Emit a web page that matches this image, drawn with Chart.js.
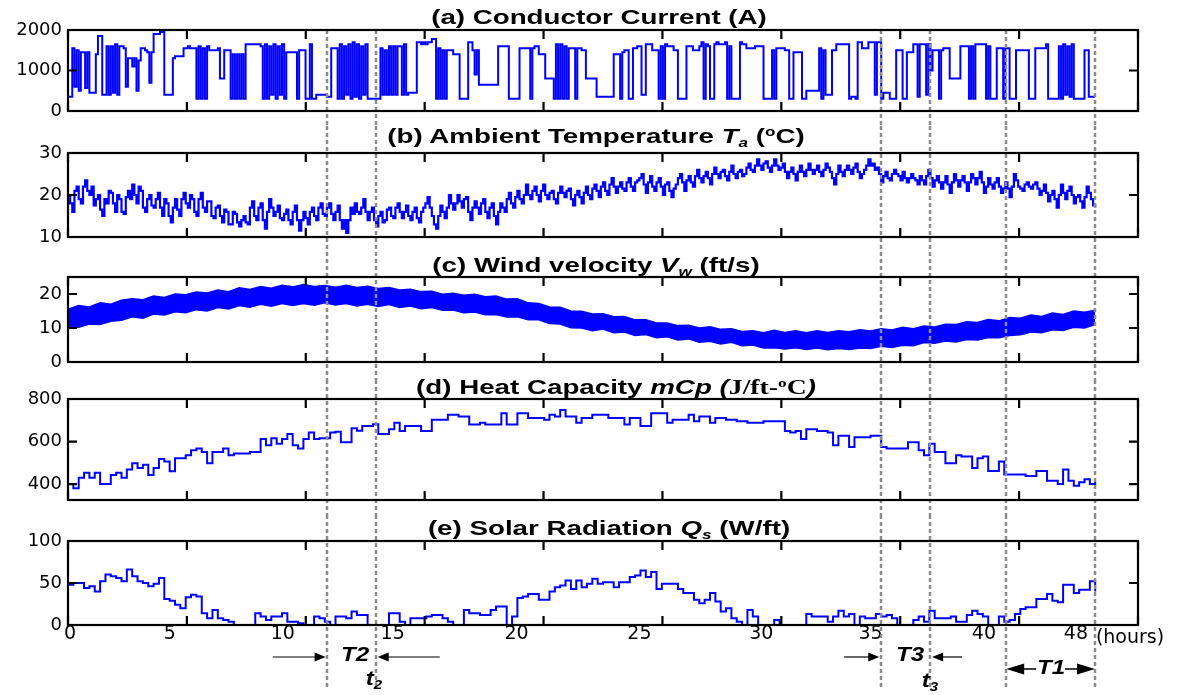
<!DOCTYPE html>
<html>
<head>
<meta charset="utf-8">
<script src="https://cdn.jsdelivr.net/npm/chart.js@4.4.1/dist/chart.umd.min.js"></script>
<style>
    body { margin: 0; background: #fff; width: 1177px; height: 695px; position: relative; overflow: hidden; font-family: "Liberation Sans", Arial, sans-serif; }
    canvas { position: absolute; left: 0; }
    .title { position: absolute; left: 603px; font-weight: bold; font-size: 21px; line-height: 24px; white-space: nowrap; transform: translateX(-50%) scaleX(1.32); }
    .title sub, .ann sub { font-size: 0.62em; vertical-align: -0.3em; line-height: 0; }
    .title sup { font-size: 0.62em; vertical-align: 0.55em; line-height: 0; }
    .serif { font-family: "Liberation Serif", "Times New Roman", serif; }
    .ann { position: absolute; font-weight: bold; font-style: italic; font-size: 21px; line-height: 24px; white-space: nowrap; transform: translate(-50%, -50%) scaleX(1.15); }
    .unit { position: absolute; font-family: "DejaVu Sans", sans-serif; font-size: 19px; line-height: 22px; transform: translate(-50%, -50%); }
</style>
</head>
<body>
<canvas id="chart-a" width="1177" height="126" style="top:0px"></canvas>
<canvas id="chart-b" width="1177" height="126" style="top:126px"></canvas>
<canvas id="chart-c" width="1177" height="128" style="top:252px"></canvas>
<canvas id="chart-d" width="1177" height="135" style="top:380px"></canvas>
<canvas id="chart-e" width="1177" height="180" style="top:515px"></canvas>

<div class="title" style="top:5px; left:599px">(a) Conductor Current (A)</div>
<div class="title" style="top:124px; left:596px">(b) Ambient Temperature <i>T<sub>a</sub></i> (<sup>o</sup>C)</div>
<div class="title" style="top:253px; left:596px">(c) Wind velocity <i>V<sub>w</sub></i> (ft/s)</div>
<div class="title" style="top:375px; left:616px">(d) Heat Capacity <i>mCp (</i><span class="serif">J/ft-<sup>o</sup>C</span><i>)</i></div>
<div class="title" style="top:516px; left:609px">(e) Solar Radiation <i>Q<sub>s</sub></i> (W/ft)</div>

<div class="ann" style="left:355px; top:654px">T2</div>
<div class="ann" style="left:374px; top:678px">t<sub>2</sub></div>
<div class="ann" style="left:910px; top:654px">T3</div>
<div class="ann" style="left:930px; top:680px">t<sub>3</sub></div>
<div class="ann" style="left:1051px; top:667px">T1</div>
<div class="unit" style="left:1130px; top:636px">(hours)</div>

<script>
// x axis (hours)
const xTickMarks = [0, 5.556, 11.111, 16.667, 22.222, 27.778, 33.333, 38.889, 44.444, 50];
const xLabelPos = [0.1, 4.76, 10.04, 15.17, 20.96, 26.7, 32.4, 37.5, 42.8, 47.1];
const xLabels = ['0', '5', '10', '15', '20', '25', '30', '35', '40', '48'];
const markerHours = [12.08, 14.41, 37.99, 40.3, 43.82, 47.99];

// arrows under the axis: [from, to] in hours, head at "to"
const arrowsSingle = [[9.57, 12.04], [17.37, 14.47], [36.27, 37.91], [41.78, 40.38]];
const arrowT1 = [43.84, 47.99];

// (a) conductor current, one value every 0.1 h (one row per hour)
const currentStep = 0.1;
const current = [
    350, 350, 1550, 600, 1500, 500, 1450, 1450, 570, 1450,
    450, 450, 450, 1400, 1850, 1850, 400, 400, 1600, 400,
    1600, 450, 1650, 400, 1600, 1600, 1550, 600, 1300, 1300,
    1100, 1300, 500, 1250, 1550, 1550, 1500, 1450, 700, 1450,
    1900, 1900, 1900, 1950, 1950, 400, 400, 400, 400, 1300,
    1350, 1350, 1350, 1350, 1550, 1550, 1600, 1550, 1550, 1550,
    300, 1600, 300, 1550, 300, 1600, 1500, 1500, 1500, 1500,
    1550, 800, 800, 1500, 1500, 1500, 300, 1400, 300, 1400,
    300, 1400, 300, 1650, 1650, 1650, 1650, 1650, 1650, 1650,
    1600, 300, 1650, 300, 1600, 400, 1650, 300, 1600, 400,
    1650, 300, 1450, 1450, 1450, 1450, 1450, 300, 1500, 1500,
    1500, 300, 300, 1650, 300, 300, 400, 400, 400, 400,
    400, 350, 350, 1550, 1550, 1550, 300, 1650, 300, 1600,
    400, 1650, 300, 1700, 350, 1650, 300, 1600, 400, 1650,
    300, 300, 300, 300, 300, 300, 1550, 400, 1500, 400,
    1600, 400, 1600, 400, 1600, 1600, 400, 1650, 400, 450,
    450, 450, 450, 1700, 1700, 1650, 1700, 1650, 1700, 1700,
    1780, 1780, 300, 1550, 300, 1500, 300, 1500, 1500, 1500,
    1400, 1400, 1400, 300, 300, 300, 300, 1700, 1700, 1500,
    900, 1500, 650, 650, 650, 650, 650, 650, 650, 650,
    650, 1600, 1600, 1600, 1600, 1600, 300, 300, 300, 300,
    300, 1550, 1550, 1550, 1550, 1550, 300, 1550, 1600, 1600,
    1400, 1400, 1400, 800, 800, 800, 800, 300, 1650, 300,
    1650, 300, 1600, 300, 1550, 1550, 1550, 300, 1550, 1550,
    1500, 1500, 800, 800, 800, 800, 800, 350, 350, 350,
    350, 350, 350, 350, 350, 1400, 1400, 1400, 300, 1450,
    1500, 1500, 300, 300, 1550, 1550, 1600, 1600, 400, 400,
    1650, 1650, 1650, 1500, 1500, 1500, 300, 1600, 300, 1650,
    1600, 1600, 1600, 1500, 1500, 300, 300, 300, 300, 1600,
    1600, 1600, 1500, 1500, 1500, 1600, 1700, 300, 1650, 1600,
    300, 300, 1650, 1700, 1650, 1650, 1650, 1700, 300, 1600,
    300, 300, 300, 300, 1700, 1650, 1650, 1550, 1550, 1550,
    1550, 1600, 1600, 1600, 1600, 300, 300, 300, 300, 1500,
    300, 1550, 1550, 1550, 1550, 1500, 1500, 300, 300, 1450,
    1450, 1450, 1450, 300, 300, 500, 500, 500, 500, 500,
    500, 1550, 300, 1500, 400, 400, 400, 1500, 1500, 1650,
    1650, 1650, 1650, 1650, 1650, 300, 350, 350, 300, 1700,
    1700, 1550, 1550, 1550, 1700, 1700, 1700, 400, 1700, 1700,
    300, 450, 450, 450, 300, 300, 300, 1500, 1500, 1500,
    300, 300, 1450, 1450, 1450, 1650, 1650, 350, 1650, 1650,
    1650, 400, 1650, 1000, 1500, 1500, 1500, 300, 1500, 1550,
    1550, 1550, 800, 800, 800, 800, 800, 1600, 1600, 1600,
    1600, 300, 1600, 300, 1650, 1650, 1650, 1650, 1650, 300,
    1600, 300, 300, 300, 1550, 1550, 1550, 300, 1550, 1550,
    300, 300, 300, 1500, 1500, 1500, 1500, 1500, 1500, 300,
    300, 300, 1550, 1550, 1550, 1550, 1550, 1650, 300, 300,
    300, 300, 300, 1600, 300, 1650, 400, 1600, 350, 1650,
    300, 300, 300, 300, 300, 1500, 1500, 350, 350, 350,
    350
];

// (b) ambient temperature, one value every 0.1 h (one row per hour)
const tempStep = 0.1;
const temperature = [
    20, 18, 16, 21, 22, 19, 18, 22, 23.5, 21,
    20, 22, 17.5, 19, 20, 16.5, 15, 19, 18, 21,
    20.5, 18, 16, 20, 19, 16, 15.5, 19.5, 21, 19,
    22.5, 20, 18, 22, 21, 17, 16, 19, 20, 17.5,
    17, 19, 20.5, 17, 15, 19, 18, 15, 13.5, 17,
    19, 16.5, 15, 19, 20.5, 18, 17, 20, 19, 16,
    15, 19, 20.5, 17, 16, 18.5, 18.5, 15, 14.5, 17,
    17.5, 15, 13.5, 16.5, 16, 13, 13, 16, 15.5, 13.5,
    12.5, 14, 15, 13.5, 13, 17, 18.5, 15, 14, 17,
    18, 14, 12, 16, 19, 17, 15, 16, 17.5, 14.5,
    14, 15.5, 16.5, 14, 13, 16, 17.5, 14, 11.5, 14,
    16, 14.5, 13, 16, 17, 15, 14, 17, 18, 15.5,
    15, 17, 18, 15.5, 14, 16, 17.5, 14, 12, 14,
    11, 14, 17, 15.5, 18, 16, 15.5, 17, 19, 16,
    14, 16, 17, 14, 12.5, 15, 16, 13.5, 14, 16.5,
    17, 15, 14.5, 17, 18, 16, 14.5, 16, 17.5, 15,
    14, 16, 17, 14.5, 13.5, 16, 17, 18, 19.5, 17,
    15, 13, 12, 15, 17.5, 16, 14.5, 17, 20, 18,
    16.5, 18, 20, 18.5, 17, 19, 19.5, 16, 14, 17,
    18.5, 17, 15.5, 18, 19, 16, 14.5, 17, 18, 15,
    13, 16, 18, 17, 16, 19, 20.5, 18, 17, 19.5,
    21, 19, 18, 20, 22.5, 20, 19, 21, 22, 20,
    18.5, 21, 22.5, 20, 19, 20.5, 21, 19, 18, 20.5,
    22, 20.5, 19.5, 21, 21.5, 19, 17.5, 20, 21, 19.5,
    18, 20.5, 22, 20, 19, 21.5, 22.5, 21, 19.5, 22,
    23, 21, 20, 22.5, 24, 22, 20.5, 22, 23, 21.5,
    21, 23, 24, 22, 21, 23, 23.5, 24, 25, 22.5,
    20.5, 23, 24.5, 22, 21, 23, 24, 22, 20, 22.5,
    23, 21, 19.5, 21.5, 22.5, 24, 25, 23, 21, 23.5,
    24.5, 23, 22, 24.5, 26, 24, 23, 24.5, 25.5, 24,
    22.5, 25, 26.5, 25, 24, 25.5, 26, 24.5, 23.5, 25.5,
    27, 25, 24, 25.5, 26, 24.5, 25, 26.5, 27.5, 26,
    25.5, 27, 28.5, 27, 26, 27.5, 28, 26.5, 25.5, 27,
    28.5, 27, 26, 26.5, 27.5, 25.5, 24, 25.5, 26.5, 25,
    23.5, 25.5, 27, 25.5, 24.5, 26, 27.5, 26, 25, 26,
    27, 25.5, 24.5, 26, 27.5, 26.5, 25.5, 24, 22.5, 25,
    27, 25.5, 24.5, 26, 27, 26, 25, 26.5, 27.5, 25.5,
    24, 25, 26, 27, 28.5, 27, 27.5, 26, 26.5, 25,
    23, 24.5, 25.5, 24, 23.5, 25, 26, 25, 24.5, 23.5,
    25.5, 24, 23, 24, 25, 24, 23.5, 22.5, 24.5, 23.5,
    22.5, 24.5, 26, 24, 22, 23.5, 24.5, 23, 21.5, 23,
    24.5, 22.5, 20.5, 23, 25, 23.5, 22, 23.5, 24.5, 23,
    21, 23, 25, 24, 22.5, 24, 25.5, 23, 20.5, 22,
    24, 22.5, 21.5, 23, 24, 22, 20.5, 21.5, 23, 21.5,
    19.5, 22, 25, 23.5, 22, 21.5, 21, 22.5, 23, 22,
    21.5, 22.5, 23, 21.5, 20, 21, 22.5, 20.5, 18.5, 20,
    21, 19, 17, 20, 22.5, 20.5, 19, 21, 22, 20,
    18, 19.5, 20, 18.5, 17, 19.5, 22, 20.5, 19, 17.5,
    17
];

// (c) wind velocity: top and bottom edge of the band, one value every 0.5 h
const windStep = 0.5;
const windUpper = [
    15.5, 16.6, 16.2, 17.4, 17.0, 18.2, 18.6, 18.3, 19.4, 19.0,
    20.0, 19.8, 20.6, 20.3, 21.2, 20.7, 21.8, 21.3, 22.2, 21.7,
    22.6, 22.1, 22.8, 22.2, 22.5, 22.0, 22.6, 21.9, 22.3, 21.6,
    21.9, 21.2, 21.4, 20.7, 20.8, 19.9, 20.2, 19.6, 19.9, 19.2,
    19.4, 18.5, 18.6, 17.4, 17.2, 16.2, 16.1, 15.0, 14.9, 14.1,
    14.2, 13.3, 13.4, 12.4, 12.4, 11.5, 11.5, 10.7, 10.8, 10.0,
    10.4, 9.6, 9.8, 9.0, 9.2, 8.6, 9.3, 8.7, 9.2, 8.6,
    9.2, 8.7, 9.2, 8.9, 9.5, 9.1, 9.8, 9.4, 10.2, 9.8,
    10.6, 10.3, 11.1, 11.0, 11.8, 11.6, 12.5, 12.1, 13.1, 12.9,
    13.8, 13.4, 14.4, 14.0, 15.0, 14.6, 15.2
];
const windLower = [
    10.6, 10.2, 11.2, 11.0, 12.0, 12.3, 13.3, 12.9, 14.1, 13.8,
    14.8, 14.5, 15.4, 15.0, 16.0, 15.6, 16.6, 16.1, 17.0, 16.4,
    17.2, 16.6, 17.2, 16.7, 17.4, 16.8, 17.2, 16.5, 17.0, 16.3,
    16.9, 16.0, 16.5, 15.7, 16.0, 15.2, 15.3, 14.5, 14.7, 13.9,
    14.0, 13.2, 13.3, 12.4, 12.4, 11.3, 11.2, 10.1, 10.0, 9.2,
    9.7, 8.6, 8.8, 7.8, 8.1, 7.1, 7.4, 6.5, 6.8, 5.8,
    6.1, 5.3, 5.8, 4.8, 5.0, 4.1, 4.2, 3.8, 4.2, 3.7,
    4.1, 3.6, 4.0, 3.7, 4.1, 4.0, 4.6, 4.3, 4.9, 4.8,
    5.7, 5.5, 6.2, 5.9, 6.6, 6.5, 7.2, 7.1, 7.8, 8.0,
    8.8, 8.6, 9.5, 9.3, 10.2, 10.0, 11.0
];

// (d) heat capacity, one value every 0.25 h
const heatStep = 0.25;
const heatCapacity = [
    400, 380, 430, 453, 430, 453, 400, 400, 442, 453, 430, 468, 498, 476, 491, 442,
    476, 518, 506, 460, 521, 521, 536, 559, 567, 551, 498, 551, 551, 567, 536, 544,
    544, 544, 551, 551, 612, 582, 615, 589, 612, 635, 582, 567, 612, 643, 612, 615,
    615, 643, 646, 597, 597, 662, 651, 673, 673, 681, 635, 635, 658, 688, 650, 673,
    673, 673, 650, 650, 703, 703, 703, 726, 726, 718, 718, 680, 680, 688, 680, 680,
    680, 733, 680, 680, 733, 733, 711, 711, 711, 703, 726, 718, 748, 718, 718, 688,
    711, 711, 726, 726, 726, 711, 711, 711, 680, 711, 711, 673, 673, 733, 733, 733,
    688, 703, 703, 703, 726, 695, 718, 718, 688, 711, 711, 703, 703, 695, 695, 688,
    688, 688, 695, 695, 695, 695, 650, 642, 650, 612, 658, 658, 650, 650, 642, 582,
    627, 627, 574, 620, 620, 620, 627, 627, 574, 567, 567, 567, 567, 597, 597, 559,
    536, 589, 551, 551, 498, 498, 536, 529, 529, 476, 521, 529, 461, 461, 506, 445,
    445, 445, 445, 438, 438, 461, 461, 415, 415, 400, 468, 415, 392, 408, 423, 400,
    410
];

// (e) solar radiation, one value every 0.25 h
const solarStep = 0.25;
const solar = [
    48, 50, 50, 44, 46, 40, 52, 60, 58, 56, 52, 66, 58, 52, 50, 46,
    49, 56, 31, 29, 24, 20, 33, 36, 34, 14, 8, 18, 8, 6, 4, 0,
    0, 0, 0, 14, 10, 6, 10, 10, 14, 4, 4, 2, 0, 0, 10, 8,
    4, 0, 10, 10, 8, 16, 12, 12, 0, 0, 0, 0, 14, 14, 4, 0,
    8, 8, 8, 10, 12, 12, 8, 4, 0, 0, 18, 14, 14, 12, 12, 18,
    22, 22, 0, 10, 32, 34, 37, 37, 30, 30, 40, 45, 47, 53, 43, 53,
    45, 49, 55, 49, 51, 51, 45, 51, 51, 57, 59, 65, 57, 63, 43, 49,
    49, 49, 43, 38, 38, 30, 26, 30, 38, 28, 16, 20, 8, 4, 0, 18,
    10, 0, 0, 0, 6, 0, 0, 0, 0, 0, 13, 10, 10, 10, 4, 10,
    17, 10, 13, 0, 10, 8, 8, 13, 10, 12, 8, 0, 0, 0, 6, 10,
    4, 17, 8, 8, 8, 10, 4, 4, 12, 17, 13, 10, 0, 0, 10, 4,
    6, 13, 19, 21, 21, 31, 31, 37, 29, 27, 48, 48, 38, 42, 42, 52,
    40
];

const currentTicks = [0, 1000, 2000];
const tempTicks = [10, 20, 30];
const windTicks = [0, 10, 20];
const heatTicks = [400, 600, 800];
const solarTicks = [0, 50, 100];

const BLUE = '#0000ff';
const tickFont = { family: 'DejaVu Sans', size: 18, lineHeight: 1 };

function toPoints(values, step) {
    return values.map((v, i) => ({ x: i * step, y: v }));
}

function drawArrowHead(ctx, tipX, y, dir, len, half) {
    ctx.beginPath();
    ctx.moveTo(tipX, y);
    ctx.lineTo(tipX - dir * len, y - half);
    ctx.lineTo(tipX - dir * len, y + half);
    ctx.closePath();
    ctx.fill();
}

// MATLAB style box with inward ticks, plus the dashed time markers
const matlabFrame = {
    id: 'matlabFrame',
    afterDatasetsDraw(chart, args, opts) {
        const { ctx, chartArea: a } = chart;
        const x = chart.scales.x;
        const y = chart.scales.y;
        ctx.save();

        ctx.strokeStyle = '#8c8c8c';
        ctx.lineWidth = 2.5;
        ctx.setLineDash([4, 3]);
        markerHours.forEach((h) => {
            const px = Math.round(x.getPixelForValue(h));
            ctx.beginPath();
            ctx.moveTo(px, opts.lineTop);
            ctx.lineTo(px, opts.lineBottom);
            ctx.stroke();
        });
        ctx.setLineDash([]);

        ctx.strokeStyle = '#000';
        ctx.lineWidth = 2.2;
        ctx.strokeRect(a.left, a.top, a.width, a.height);

        const len = 9;
        ctx.beginPath();
        xTickMarks.forEach((h) => {
            const px = x.getPixelForValue(h);
            ctx.moveTo(px, a.top);
            ctx.lineTo(px, a.top + len);
            ctx.moveTo(px, a.bottom);
            ctx.lineTo(px, a.bottom - len);
        });
        opts.yTicks.forEach((v) => {
            const py = y.getPixelForValue(v);
            ctx.moveTo(a.left, py);
            ctx.lineTo(a.left + len, py);
            ctx.moveTo(a.right, py);
            ctx.lineTo(a.right - len, py);
        });
        ctx.stroke();

        if (opts.arrows) {
            ctx.fillStyle = '#000';
            ctx.lineWidth = 1.2;
            const ay = a.bottom + 32;
            arrowsSingle.forEach(([from, to]) => {
                const x0 = x.getPixelForValue(from);
                const x1 = x.getPixelForValue(to);
                const dir = x1 > x0 ? 1 : -1;
                ctx.beginPath();
                ctx.moveTo(x0, ay);
                ctx.lineTo(x1 - dir * 8, ay);
                ctx.stroke();
                drawArrowHead(ctx, x1, ay, dir, 11, 4.5);
            });
            const by = a.bottom + 44;
            const l = x.getPixelForValue(arrowT1[0]);
            const r = x.getPixelForValue(arrowT1[1]);
            ctx.lineWidth = 1.5;
            ctx.beginPath();
            ctx.moveTo(l + 15, by);
            ctx.lineTo(l + 30, by);
            ctx.moveTo(r - 30, by);
            ctx.lineTo(r - 15, by);
            ctx.stroke();
            drawArrowHead(ctx, l, by, -1, 18, 5.5);
            drawArrowHead(ctx, r, by, 1, 18, 5.5);
        }
        ctx.restore();
    }
};

function makePanel(canvasId, datasets, yMin, yMax, yTicks, padding, frameOpts, showX) {
    const xScale = {
        type: 'linear',
        min: 0,
        max: 50,
        display: showX,
        grid: { display: false, drawTicks: false },
        border: { display: false },
        afterBuildTicks: (s) => { s.ticks = xLabelPos.map((v) => ({ value: v })); },
        ticks: {
            autoSkip: false,
            maxRotation: 0,
            padding: 0,
            color: '#000',
            font: { family: 'DejaVu Sans', size: 19, lineHeight: 1 },
            callback: (v, i) => xLabels[i]
        }
    };
    if (showX) {
        xScale.afterFit = (s) => { s.height = 40; };
    }
    return new Chart(document.getElementById(canvasId), {
        type: 'line',
        data: { datasets: datasets },
        options: {
            responsive: false,
            animation: false,
            devicePixelRatio: 1,
            events: [],
            layout: { padding: padding },
            plugins: {
                legend: { display: false },
                tooltip: { enabled: false },
                matlabFrame: Object.assign({ yTicks: yTicks }, frameOpts)
            },
            scales: {
                x: xScale,
                y: {
                    min: yMin,
                    max: yMax,
                    grid: { display: false, drawTicks: false },
                    border: { display: false },
                    afterBuildTicks: (s) => { s.ticks = yTicks.map((v) => ({ value: v })); },
                    afterFit: (s) => { s.width = 68; },
                    ticks: {
                        padding: 6,
                        color: '#000',
                        font: tickFont,
                        callback: (v) => String(v)
                    }
                }
            }
        },
        plugins: [matlabFrame]
    });
}

function lineSet(values, step, width) {
    return {
        data: toPoints(values, step),
        borderColor: BLUE,
        borderWidth: width,
        pointRadius: 0,
        stepped: true,
        fill: false
    };
}

makePanel('chart-a', [lineSet(current, currentStep, 2)], 0, 2000, currentTicks,
    { top: 30, bottom: 12, left: 0, right: 39 }, { lineTop: 30, lineBottom: 126 }, false);

makePanel('chart-b', [lineSet(temperature, tempStep, 2.2)], 10, 30, tempTicks,
    { top: 27, bottom: 13, left: 0, right: 39 }, { lineTop: 0, lineBottom: 126 }, false);

makePanel('chart-c', [
    {
        data: toPoints(windLower, windStep),
        borderColor: BLUE,
        borderWidth: 1.5,
        pointRadius: 0,
        fill: false
    },
    {
        data: toPoints(windUpper, windStep),
        borderColor: BLUE,
        borderWidth: 1.5,
        backgroundColor: BLUE,
        pointRadius: 0,
        fill: '-1'
    }
], 0, 25, windTicks, { top: 25, bottom: 18, left: 0, right: 39 }, { lineTop: 0, lineBottom: 128 }, false);

makePanel('chart-d', [lineSet(heatCapacity, heatStep, 2)], 325, 800, heatTicks,
    { top: 19, bottom: 10, left: 0, right: 39 }, { lineTop: 0, lineBottom: 135 }, false);

makePanel('chart-e', [lineSet(solar, solarStep, 2)], 0, 100, solarTicks,
    { top: 26, bottom: 30, left: 0, right: 39 }, { lineTop: 0, lineBottom: 173, arrows: true }, true);
</script>
</body>
</html>
